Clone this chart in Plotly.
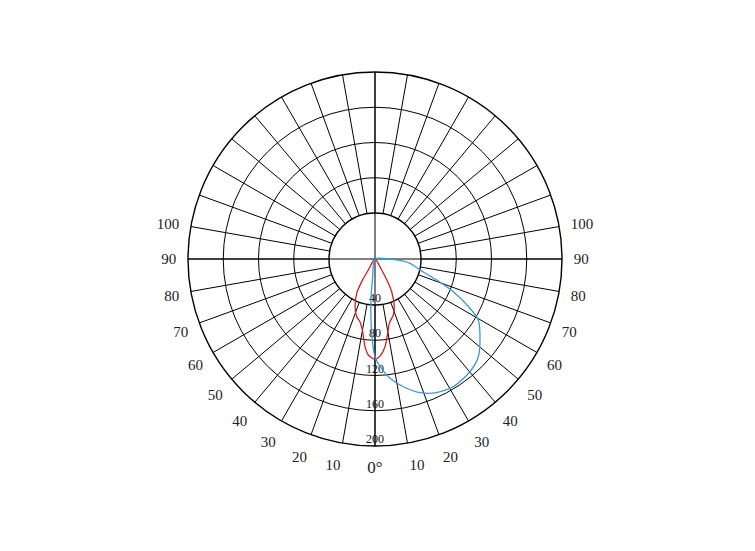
import plotly.graph_objects as go

# Light distribution curves (angle in degrees from nadir, intensity)
red_theta = [-33, -31.3, -30.4, -28.1, -22.7, -17.6, -13.5, -10.1, -6.5, -4, 0,
             3, 6.5, 9.7, 12.5, 18.1, 22, 27, 29.2, 31.3, 33]
red_value = [0, 13.8, 28.1, 41.6, 55.3, 64.7, 69, 77.1, 94.4, 102.9, 107.3,
             103.8, 94.4, 80.6, 70.5, 63, 55.1, 39.3, 27.8, 13.8, 0]

blue_theta = [90, 87.4, 83, 76.3, 71.2, 67.3, 62.6, 59.4, 53.5, 46.6, 40.1, 31.5,
              24.8, 18.6, 12.5, 7.2, 2.7, 0, -2.6, -5.6, -7.4, -8]
blue_value = [0, 23.2, 37.8, 49.5, 69.7, 90.8, 114.4, 128.3, 139.7, 152.1, 157.6, 160.2,
              157.4, 150.8, 139.9, 128.5, 115.3, 104.5, 79.1, 44.1, 19, 0]

# Grid rings and angle labels
ring_values = [40, 80, 120, 160, 200]
angle_ticks = list(range(0, 360, 10))


def angle_label(a):
    if a == 0:
        return '<span style="font-size:17px">0°</span>'
    if a <= 100:
        return str(a)
    if a >= 260:
        return str(360 - a)
    return ""


angle_text = [angle_label(a) for a in angle_ticks]

serif = "Times New Roman, Liberation Serif, serif"
cx, cy, R = 375, 259, 187
W, H = 755, 551
dom_x = [(cx - R) / W, (cx + R) / W]
dom_y = [(H - cy - R) / H, (H - cy + R) / H]

fig = go.Figure()

# ring labels along the nadir axis
fig.add_trace(go.Scatterpolar(
    r=ring_values, theta=[0] * len(ring_values), mode="text",
    text=[str(v) for v in ring_values], textposition="top center",
    textfont=dict(family=serif, size=12, color="#111"),
    hoverinfo="skip", showlegend=False, subplot="polar"))

fig.add_trace(go.Scatterpolar(
    r=red_value, theta=red_theta, mode="lines",
    line=dict(color="#cc2020", width=1.3, shape="spline", smoothing=0.7),
    hoverinfo="skip", showlegend=False, subplot="polar2"))
fig.add_trace(go.Scatterpolar(
    r=blue_value, theta=blue_theta, mode="lines",
    line=dict(color="#3a9ad0", width=1.3, shape="spline", smoothing=0.7),
    hoverinfo="skip", showlegend=False, subplot="polar2"))

fig.update_layout(
    width=W, height=H, margin=dict(l=0, r=0, t=0, b=0),
    paper_bgcolor="white", plot_bgcolor="white",
    polar=dict(
        domain=dict(x=dom_x, y=dom_y),
        hole=46 / 187,
        bgcolor="white",
        radialaxis=dict(range=[40, 200], tickvals=ring_values, showgrid=True,
                        gridcolor="#000", gridwidth=1.2, showline=False,
                        showticklabels=False, ticks=""),
        angularaxis=dict(rotation=-90, direction="counterclockwise",
                         tickmode="array", tickvals=angle_ticks, ticktext=angle_text,
                         showgrid=True, gridcolor="#000", gridwidth=1.2,
                         showline=True, linecolor="#000", linewidth=1.4,
                         ticks="outside", ticklen=8, tickcolor="rgba(0,0,0,0)",
                         tickfont=dict(family=serif, size=15, color="#222")),
    ),
    polar2=dict(
        domain=dict(x=dom_x, y=dom_y),
        bgcolor="rgba(0,0,0,0)",
        radialaxis=dict(range=[0, 200], showgrid=False, showline=False,
                        showticklabels=False, ticks=""),
        angularaxis=dict(rotation=-90, direction="counterclockwise",
                         tickmode="array", tickvals=[0, 90, 180, 270],
                         showgrid=True, gridcolor="#000", gridwidth=1.4,
                         showline=False, showticklabels=False, ticks=""),
    ),
)

fig.write_html("out.html")
